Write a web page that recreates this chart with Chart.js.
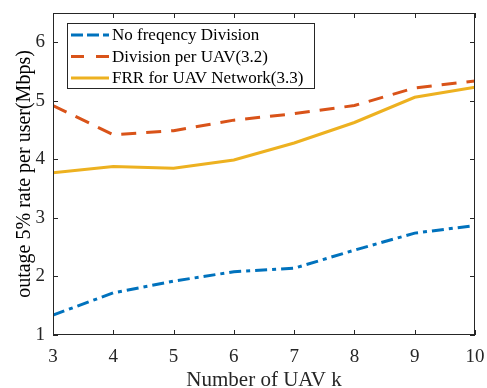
<!DOCTYPE html>
<html>
<head>
<meta charset="utf-8">
<script src="https://cdn.jsdelivr.net/npm/chart.js@4/dist/chart.umd.min.js"></script>
<style>
  html, body { margin: 0; padding: 0; background: #fff; }
  #wrap { width: 487px; height: 388px; }
</style>
</head>
<body>
<div id="wrap"><canvas id="chart" width="487" height="388"></canvas></div>
<script>
// Data
const kValues = [3, 4, 5, 6, 7, 8, 9, 10];
const noDivision = [1.34, 1.72, 1.92, 2.08, 2.14, 2.45, 2.74, 2.87];
const perUav = [4.92, 4.42, 4.49, 4.67, 4.78, 4.92, 5.22, 5.34];
const frrNetwork = [3.77, 3.88, 3.85, 3.99, 4.28, 4.63, 5.06, 5.23];
const xTicks = [3, 4, 5, 6, 7, 8, 9, 10];
const yTicks = [1, 2, 3, 4, 5, 6];

const FONT = '"Liberation Serif", "Times New Roman", serif';
const AXIS = '#262626';

const toPoints = ys => ys.map((y, i) => ({ x: kValues[i], y: y }));

// MATLAB-style box with inward ticks on all four sides
const boxPlugin = {
    id: 'box',
    afterDraw(chart) {
        const { ctx, chartArea: a, scales } = chart;
        ctx.save();
        ctx.strokeStyle = AXIS;
        ctx.lineWidth = 1;
        ctx.strokeRect(a.left + 0.5, a.top + 0.5, a.right - a.left - 1, a.bottom - a.top - 1);
        const len = 5;
        ctx.beginPath();
        xTicks.forEach(v => {
            const px = Math.round(scales.x.getPixelForValue(v)) + 0.5;
            ctx.moveTo(px, a.bottom); ctx.lineTo(px, a.bottom - len);
            ctx.moveTo(px, a.top); ctx.lineTo(px, a.top + len);
        });
        yTicks.forEach(v => {
            const py = Math.round(scales.y.getPixelForValue(v)) + 0.5;
            ctx.moveTo(a.left, py); ctx.lineTo(a.left + len, py);
            ctx.moveTo(a.right, py); ctx.lineTo(a.right - len, py);
        });
        ctx.stroke();
        ctx.restore();
    }
};

// legend drawn inside the plot, upper left
const insideLegend = {
    id: 'insideLegend',
    afterDraw(chart) {
        const { ctx } = chart;
        const x0 = 67, y0 = 23, w = 247, h = 65;
        ctx.save();
        ctx.fillStyle = '#fff';
        ctx.fillRect(x0, y0, w, h);
        ctx.strokeStyle = AXIS;
        ctx.lineWidth = 1;
        ctx.strokeRect(x0 + 0.5, y0 + 0.5, w, h);
        ctx.font = '17px ' + FONT;
        ctx.textBaseline = 'middle';
        chart.data.datasets.forEach((ds, i) => {
            const y = y0 + 12 + i * 21.5;
            ctx.strokeStyle = ds.borderColor;
            ctx.lineWidth = 3;
            ctx.setLineDash(ds.legendDash || []);
            ctx.beginPath();
            ctx.moveTo(x0 + 4, y);
            ctx.lineTo(x0 + 42, y);
            ctx.stroke();
            ctx.setLineDash([]);
            ctx.fillStyle = '#000';
            ctx.fillText(ds.label, x0 + 45, y + 1);
        });
        ctx.restore();
    }
};

new Chart(document.getElementById('chart'), {
    type: 'line',
    data: {
        datasets: [
            {
                label: 'No freqency Division',
                data: toPoints(noDivision),
                borderColor: '#0072BD',
                borderDash: [12, 5, 4, 5],
                legendDash: [12, 4],
                borderWidth: 3
            },
            {
                label: 'Division per UAV(3.2)',
                data: toPoints(perUav),
                borderColor: '#D95319',
                borderDash: [15, 10],
                legendDash: [13, 12],
                borderWidth: 3
            },
            {
                label: 'FRR for UAV Network(3.3)',
                data: toPoints(frrNetwork),
                borderColor: '#EDB120',
                borderWidth: 3
            }
        ]
    },
    options: {
        responsive: false,
        animation: false,
        layout: { padding: { top: 13, right: 12, left: 0, bottom: 0 } },
        elements: { point: { radius: 0 }, line: { tension: 0 } },
        plugins: { legend: { display: false }, tooltip: { enabled: false } },
        scales: {
            x: {
                type: 'linear',
                min: 3, max: 10,
                afterBuildTicks: s => { s.ticks = xTicks.map(v => ({ value: v })); },
                afterFit: s => { s.height = 53; s.paddingLeft = 0; s.paddingRight = 0; },
                grid: { display: false, drawTicks: false },
                border: { display: false },
                ticks: { color: '#262626', font: { family: FONT, size: 19 }, padding: 11, maxRotation: 0 },
                title: { display: true, text: 'Number of UAV k', color: '#262626',
                         font: { family: FONT, size: 21 }, padding: { top: 0, bottom: -5 } }
            },
            y: {
                type: 'linear',
                min: 1, max: 6.5,
                afterBuildTicks: s => { s.ticks = yTicks.map(v => ({ value: v })); },
                afterFit: s => { s.width = 53; s.paddingTop = 0; s.paddingBottom = 0; },
                grid: { display: false, drawTicks: false },
                border: { display: false },
                ticks: { color: '#262626', font: { family: FONT, size: 19 }, padding: 8 },
                title: { display: true, text: 'outage 5% rate per user(Mbps)', color: '#000',
                         font: { family: FONT, size: 20 }, padding: { top: 13, bottom: 0 } }
            }
        }
    },
    plugins: [boxPlugin, insideLegend]
});
</script>
</body>
</html>
